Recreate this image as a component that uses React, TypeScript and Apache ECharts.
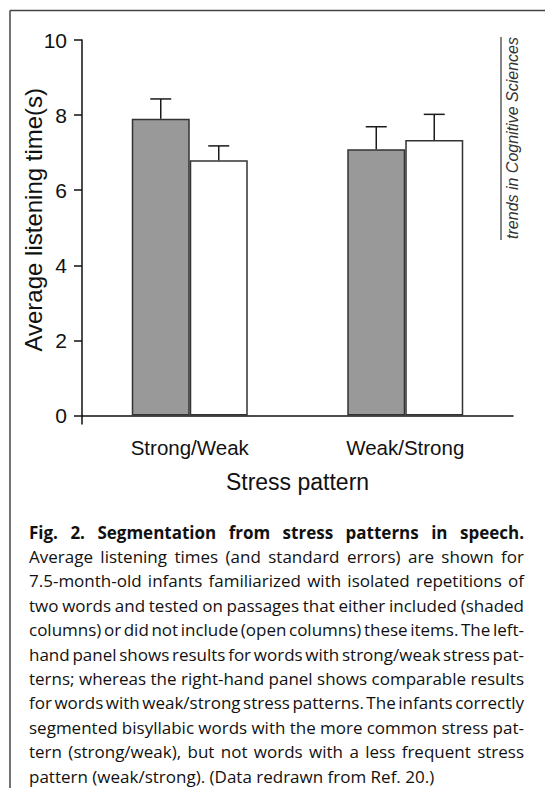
import React, { useEffect, useRef } from "react";
import * as echarts from "echarts";

// ---------- data ----------
const categories = ["Strong/Weak", "Weak/Strong"];
const includedMeans = [7.9, 7.09]; // shaded columns
const includedErrors = [0.53, 0.6];
const openMeans = [6.8, 7.34]; // open columns
const openErrors = [0.38, 0.68];
const yMin = 0;
const yMax = 10;
const yStep = 2;
const yAxisTitle = "Average listening time(s)";
const xAxisTitle = "Stress pattern";
const sideNote = "trends in Cognitive Sciences";
const captionTitle = "Fig. 2. Segmentation from stress patterns in speech.";
const captionLines = [
  "Average listening times (and standard errors) are shown for",
  "7.5-month-old infants familiarized with isolated repetitions of",
  "two words and tested on passages that either included (shaded",
  "columns) or did not include (open columns) these items. The left-",
  "hand panel shows results for words with strong/weak stress pat-",
  "terns; whereas the right-hand panel shows comparable results",
  "for words with weak/strong stress patterns. The infants correctly",
  "segmented bisyllabic words with the more common stress pat-",
  "tern (strong/weak), but not words with a less frequent stress",
  "pattern (weak/strong). (Data redrawn from Ref. 20.)",
];

// ---------- layout constants ----------
const W = 545;
const H = 788;
const GRID_LEFT = 82;
const GRID_RIGHT = 32;
const GRID_TOP = 40;
const AXIS_Y = 415.5;
const BAR_W = 58;
const CAP_LEFT = 29;
const CAP_RIGHT = 524;
const CAP_FIRST_Y = 532;
const CAP_STEP = 24.4;
const CAP_SIZE = 17;
const CAP_FAMILY = "Open Sans";
const INK = "#111";

function captionWords(): any[] {
  const canvas = document.createElement("canvas");
  const ctx = canvas.getContext("2d") as CanvasRenderingContext2D;
  const out: any[] = [];
  const all = [captionTitle, ...captionLines];
  all.forEach((line, li) => {
    const bold = li === 0;
    const justify = li !== all.length - 1;
    const font = `${bold ? "bold " : ""}${CAP_SIZE}px "${CAP_FAMILY}"`;
    ctx.font = font;
    const words = line.split(" ");
    const widths = words.map((w) => ctx.measureText(w).width);
    const total = widths.reduce((a, b) => a + b, 0);
    const space = ctx.measureText(" ").width;
    const gap =
      justify && words.length > 1
        ? (CAP_RIGHT - CAP_LEFT - total) / (words.length - 1)
        : space;
    let x = CAP_LEFT;
    const y = CAP_FIRST_Y + li * CAP_STEP;
    words.forEach((w, i) => {
      out.push({
        type: "text",
        x,
        y,
        silent: true,
        style: {
          text: w,
          fontSize: CAP_SIZE,
          fontFamily: CAP_FAMILY,
          fontWeight: bold ? "bold" : "normal",
          fill: INK,
          align: "left",
          verticalAlign: "middle",
        },
      });
      x += widths[i] + gap;
    });
  });
  return out;
}

function errorSeries(means: number[], errs: number[], offset: number) {
  return {
    type: "custom",
    data: means.map((m, i) => [i, m, m + errs[i]]),
    encode: { x: 0, y: [1, 2] },
    z: 5,
    renderItem: (params: any, api: any) => {
      const i = api.value(0);
      const p0 = api.coord([i, api.value(1)]);
      const p1 = api.coord([i, api.value(2)]);
      const x = p0[0] + offset;
      const st = { stroke: "#1a1a1a", lineWidth: 1.5 };
      return {
        type: "group",
        children: [
          { type: "line", shape: { x1: x, y1: p0[1], x2: x, y2: p1[1] }, style: st },
          { type: "line", shape: { x1: x - 10.5, y1: p1[1], x2: x + 10.5, y2: p1[1] }, style: st },
        ],
      };
    },
  };
}

export default function App() {
  const ref = useRef<HTMLDivElement>(null);
  useEffect(() => {
    if (!ref.current) return;
    const chart = echarts.init(ref.current, undefined, { renderer: "svg" });
    const axisFont = "Liberation Sans";
    chart.setOption({
      animation: false,
      backgroundColor: "#fff",
      grid: {
        left: GRID_LEFT,
        right: GRID_RIGHT,
        top: GRID_TOP,
        bottom: H - AXIS_Y,
        containLabel: false,
      },
      xAxis: {
        type: "category",
        data: categories,
        axisLine: { lineStyle: { color: INK, width: 1.5 } },
        axisTick: { alignWithLabel: true, length: 9, lineStyle: { color: INK, width: 1.5 } },
        axisLabel: { fontSize: 20.5, color: INK, margin: 21, fontFamily: axisFont },
        name: xAxisTitle,
        nameLocation: "middle",
        nameGap: 55,
        nameTextStyle: { fontSize: 23, color: INK, fontFamily: axisFont },
      },
      yAxis: {
        type: "value",
        min: yMin,
        max: yMax,
        interval: yStep,
        splitLine: { show: false },
        axisLine: { show: true, lineStyle: { color: INK, width: 1.5 } },
        axisTick: { show: true, length: 8, lineStyle: { color: INK, width: 1.5 } },
        axisLabel: { fontSize: 21, color: INK, margin: 15, fontFamily: axisFont },
        name: yAxisTitle,
        nameLocation: "middle",
        nameGap: 37,
        nameMoveOverlap: false,
        nameTextStyle: { fontSize: 24, color: INK, fontFamily: axisFont, padding: [0, 0, 0, 16] },
      },
      series: [
        {
          type: "bar",
          data: includedMeans,
          barWidth: BAR_W,
          barGap: "0%",
          itemStyle: { color: "#999999", borderColor: "#333", borderWidth: 1.5 },
        },
        {
          type: "bar",
          data: openMeans,
          barWidth: BAR_W,
          barGap: "0%",
          itemStyle: { color: "#ffffff", borderColor: "#333", borderWidth: 1.5 },
        },
        errorSeries(includedMeans, includedErrors, -BAR_W / 2),
        errorSeries(openMeans, openErrors, BAR_W / 2),
      ],
      graphic: [
        // frame
        { type: "line", silent: true, shape: { x1: 10, y1: 10.5, x2: W, y2: 10.5 }, style: { stroke: "#444", lineWidth: 1.5 } },
        { type: "line", silent: true, shape: { x1: 10, y1: 10.5, x2: 10, y2: H }, style: { stroke: "#444", lineWidth: 1.5 } },
        // origin tick on category axis
        { type: "line", silent: true, shape: { x1: GRID_LEFT, y1: AXIS_Y, x2: GRID_LEFT, y2: AXIS_Y + 9 }, style: { stroke: INK, lineWidth: 1.5 } },
        // side note
        { type: "line", silent: true, shape: { x1: 501, y1: 37, x2: 501, y2: 240 }, style: { stroke: "#333", lineWidth: 1.2 } },
        {
          type: "text",
          x: 512,
          y: 138,
          rotation: Math.PI / 2,
          silent: true,
          style: {
            text: sideNote,
            fontSize: 16,
            fontStyle: "italic",
            fontFamily: axisFont,
            fill: "#333",
            align: "center",
            verticalAlign: "middle",
          },
        },
        ...captionWords(),
      ],
    });
    return () => chart.dispose();
  }, []);
  return (
    <div
      ref={ref}
      style={{ position: "absolute", left: 0, top: 0, width: W, height: H }}
    />
  );
}
